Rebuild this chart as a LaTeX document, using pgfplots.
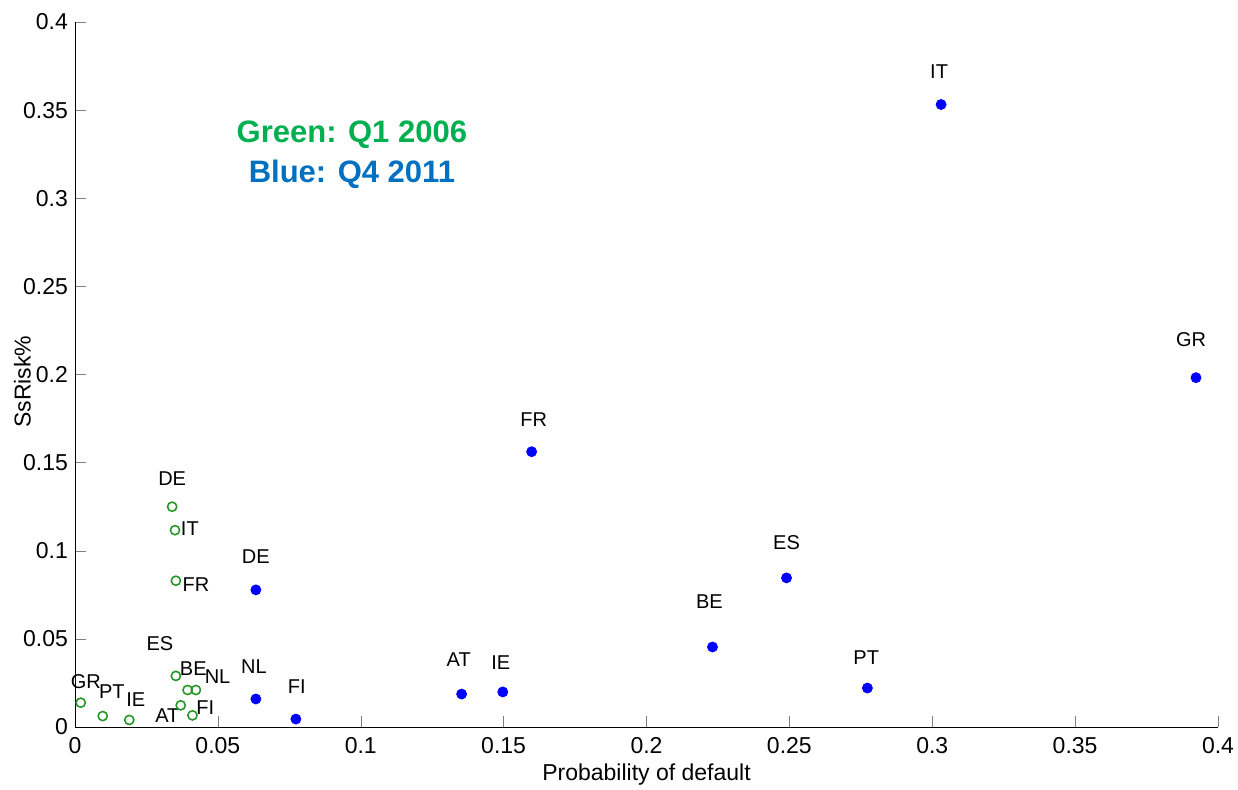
\documentclass[border=0pt]{standalone}
\usepackage{pgfplots}
\pgfplotsset{compat=1.18}
\usepackage{fontspec}
\setmainfont{Liberation Sans}
\definecolor{mkgreen}{RGB}{40,150,40}
\definecolor{txtgreen}{RGB}{0,176,80}
\definecolor{txtblue}{RGB}{0,112,192}
\definecolor{mkblue}{RGB}{0,0,255}
\begin{document}
\begin{tikzpicture}
\path[use as bounding box] (-37.5pt,-31pt) rectangle (581.5pt,363.5pt);
\begin{axis}[
  scale only axis, width=571.5pt, height=352.5pt,
  anchor=south west, at={(0pt,0pt)},
  xmin=0, xmax=0.4, ymin=0, ymax=0.4,
  axis x line*=bottom, axis y line*=left,
  tick align=inside, major tick length=5.5pt,
  xtick={0,0.05,...,0.401}, ytick={0,0.05,...,0.401},
  /pgf/number format/assume math mode=true,
  /pgf/number format/fixed, /pgf/number format/precision=2,
  tick label style={font=\fontsize{11.5}{13}\selectfont},
  xticklabel style={yshift=-1.5pt},
  xlabel={Probability of default}, ylabel={SsRisk\%},
  label style={font=\fontsize{11.5}{13}\selectfont},
  xlabel style={at={(axis description cs:0.5,-0.068)}, anchor=center},
  ylabel style={at={(axis description cs:-0.046,0.49)}, anchor=center},
  clip=false,
]
\addplot[only marks, mark=o, mark size=2.3pt, mkgreen, mark options={line width=0.8pt}] coordinates {
 (0.0340,0.125) (0.0350,0.1117) (0.0353,0.083) (0.0353,0.029) (0.0394,0.021)
 (0.0423,0.021) (0.0370,0.0123) (0.0411,0.0066) (0.0020,0.0138) (0.0097,0.0062) (0.0190,0.0040)
};
\addplot[only marks, mark=*, mark size=2.5pt, mkblue] coordinates {
 (0.3031,0.3532) (0.3923,0.1982) (0.1598,0.1562) (0.2490,0.0846) (0.0633,0.0778)
 (0.2231,0.0454) (0.2773,0.0221) (0.0633,0.0159) (0.1353,0.0187) (0.1497,0.0199) (0.0773,0.0045)
};
\begin{scope}[every node/.style={font=\fontsize{10}{12}\selectfont, inner sep=0pt}]
\node at (axis cs:0.0340,0.1411) {DE};
\node at (axis cs:0.0402,0.1124) {IT};
\node at (axis cs:0.0423,0.0810) {FR};
\node at (axis cs:0.0297,0.0471) {ES};
\node at (axis cs:0.0414,0.0333) {BE};
\node at (axis cs:0.0499,0.0286) {NL};
\node at (axis cs:0.0038,0.0257) {GR};
\node at (axis cs:0.0129,0.0201) {PT};
\node at (axis cs:0.0213,0.0157) {IE};
\node at (axis cs:0.0323,0.0064) {AT};
\node at (axis cs:0.0456,0.0112) {FI};
\node at (axis cs:0.3024,0.3719) {IT};
\node at (axis cs:0.3906,0.2198) {GR};
\node at (axis cs:0.1605,0.1743) {FR};
\node at (axis cs:0.2490,0.1045) {ES};
\node at (axis cs:0.0633,0.0965) {DE};
\node at (axis cs:0.2220,0.0710) {BE};
\node at (axis cs:0.2769,0.0392) {PT};
\node at (axis cs:0.0626,0.0341) {NL};
\node at (axis cs:0.1343,0.0380) {AT};
\node at (axis cs:0.1490,0.0363) {IE};
\node at (axis cs:0.0776,0.0227) {FI};
\end{scope}
\node[font=\bfseries\fontsize{15.5}{18}\selectfont, text=txtgreen] at (axis cs:0.0969,0.336) {Green: Q1 2006};
\node[font=\bfseries\fontsize{15.5}{18}\selectfont, text=txtblue] at (axis cs:0.0969,0.3135) {Blue: Q4 2011};
\end{axis}
\end{tikzpicture}
\end{document}
